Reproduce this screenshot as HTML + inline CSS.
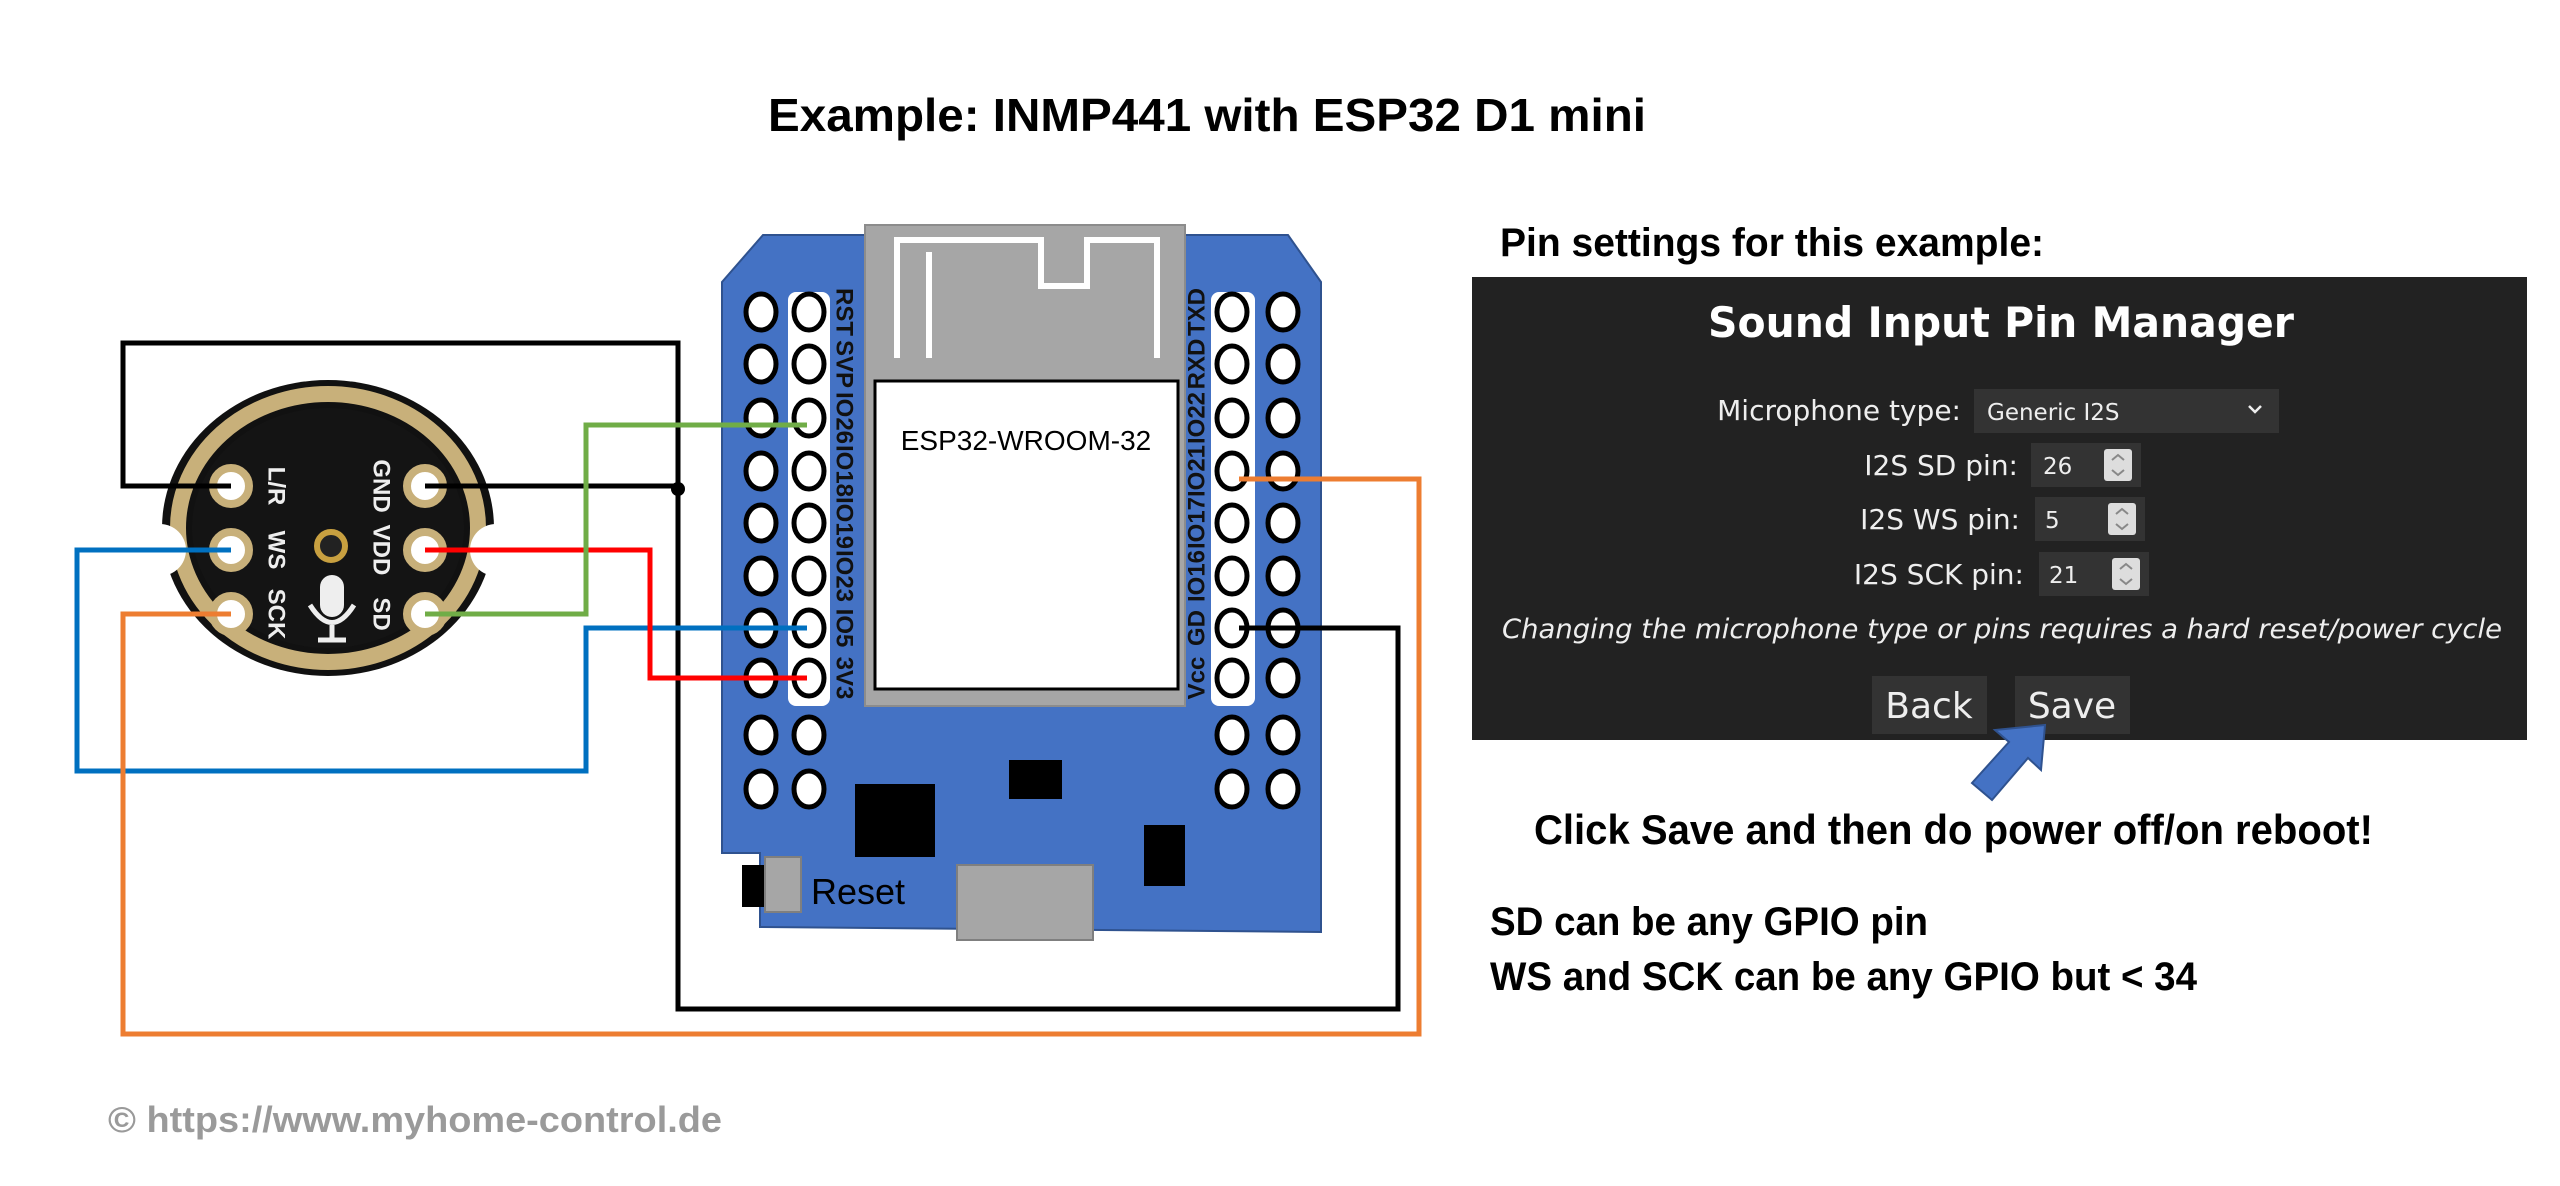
<!DOCTYPE html>
<html><head><meta charset="utf-8"><style>
html,body{margin:0;padding:0;background:#fff;}
svg{display:block;}
</style></head><body>
<svg width="2560" height="1186" viewBox="0 0 2560 1186" xmlns="http://www.w3.org/2000/svg">
<rect width="2560" height="1186" fill="#fff"/>
<text x="768" y="131" font-family="Liberation Sans, sans-serif" font-weight="bold" font-size="46" textLength="878" lengthAdjust="spacingAndGlyphs" fill="#000">Example: INMP441 with ESP32 D1 mini</text>

<!-- ESP board -->
<polygon points="722,282 763,235 1288,235 1321,282 1321,932 760,927 760,853 722,853" fill="#4472c4" stroke="#2f528f" stroke-width="2"/>
<rect x="865" y="225" width="320" height="481" fill="#a6a6a6" stroke="#8c8c8c" stroke-width="2"/>
<path d="M897 358 V240 H1041 V286 H1087 V240 H1157 V358 M929 358 V252" fill="none" stroke="#fff" stroke-width="6"/>
<rect x="875" y="381" width="303" height="308" fill="#fff" stroke="#000" stroke-width="3"/>
<text x="1026" y="450" text-anchor="middle" font-family="Liberation Sans, sans-serif" font-size="28" fill="#000">ESP32-WROOM-32</text>
<rect x="788" y="292" width="42" height="414" rx="8" fill="#fff"/>
<rect x="1211" y="292" width="44" height="414" rx="8" fill="#fff"/>
<g fill="#fff" stroke="#000" stroke-width="5">
<ellipse cx="761" cy="312" rx="15" ry="18"/><ellipse cx="809" cy="312" rx="15" ry="18"/><ellipse cx="1232" cy="312" rx="15" ry="18"/><ellipse cx="1283" cy="312" rx="15" ry="18"/>
<ellipse cx="761" cy="364" rx="15" ry="18"/><ellipse cx="809" cy="364" rx="15" ry="18"/><ellipse cx="1232" cy="364" rx="15" ry="18"/><ellipse cx="1283" cy="364" rx="15" ry="18"/>
<ellipse cx="761" cy="418" rx="15" ry="18"/><ellipse cx="809" cy="418" rx="15" ry="18"/><ellipse cx="1232" cy="418" rx="15" ry="18"/><ellipse cx="1283" cy="418" rx="15" ry="18"/>
<ellipse cx="761" cy="471" rx="15" ry="18"/><ellipse cx="809" cy="471" rx="15" ry="18"/><ellipse cx="1232" cy="471" rx="15" ry="18"/><ellipse cx="1283" cy="471" rx="15" ry="18"/>
<ellipse cx="761" cy="523" rx="15" ry="18"/><ellipse cx="809" cy="523" rx="15" ry="18"/><ellipse cx="1232" cy="523" rx="15" ry="18"/><ellipse cx="1283" cy="523" rx="15" ry="18"/>
<ellipse cx="761" cy="576" rx="15" ry="18"/><ellipse cx="809" cy="576" rx="15" ry="18"/><ellipse cx="1232" cy="576" rx="15" ry="18"/><ellipse cx="1283" cy="576" rx="15" ry="18"/>
<ellipse cx="761" cy="628" rx="15" ry="18"/><ellipse cx="809" cy="628" rx="15" ry="18"/><ellipse cx="1232" cy="628" rx="15" ry="18"/><ellipse cx="1283" cy="628" rx="15" ry="18"/>
<ellipse cx="761" cy="678" rx="15" ry="18"/><ellipse cx="809" cy="678" rx="15" ry="18"/><ellipse cx="1232" cy="678" rx="15" ry="18"/><ellipse cx="1283" cy="678" rx="15" ry="18"/>
<ellipse cx="761" cy="735" rx="15" ry="18"/><ellipse cx="809" cy="735" rx="15" ry="18"/><ellipse cx="1232" cy="735" rx="15" ry="18"/><ellipse cx="1283" cy="735" rx="15" ry="18"/>
<ellipse cx="761" cy="789" rx="15" ry="18"/><ellipse cx="809" cy="789" rx="15" ry="18"/><ellipse cx="1232" cy="789" rx="15" ry="18"/><ellipse cx="1283" cy="789" rx="15" ry="18"/>
</g>
<g font-family="Liberation Sans, sans-serif" font-weight="bold" font-size="24" fill="#111" text-anchor="middle">
<text transform="translate(845,312) rotate(90)" dy="0.35em">RST</text>
<text transform="translate(845,364) rotate(90)" dy="0.35em">SVP</text>
<text transform="translate(845,418) rotate(90)" dy="0.35em">IO26</text>
<text transform="translate(845,471) rotate(90)" dy="0.35em">IO18</text>
<text transform="translate(845,523) rotate(90)" dy="0.35em">IO19</text>
<text transform="translate(845,576) rotate(90)" dy="0.35em">IO23</text>
<text transform="translate(845,628) rotate(90)" dy="0.35em">IO5</text>
<text transform="translate(845,678) rotate(90)" dy="0.35em">3V3</text>
<text transform="translate(1196,312) rotate(-90)" dy="0.35em">TXD</text>
<text transform="translate(1196,364) rotate(-90)" dy="0.35em">RXD</text>
<text transform="translate(1196,418) rotate(-90)" dy="0.35em">IO22</text>
<text transform="translate(1196,471) rotate(-90)" dy="0.35em">IO21</text>
<text transform="translate(1196,523) rotate(-90)" dy="0.35em">IO17</text>
<text transform="translate(1196,576) rotate(-90)" dy="0.35em">IO16</text>
<text transform="translate(1196,628) rotate(-90)" dy="0.35em">GD</text>
<text transform="translate(1196,678) rotate(-90)" dy="0.35em">Vcc</text>
</g>
<rect x="855" y="784" width="80" height="73" fill="#000"/>
<rect x="1009" y="760" width="53" height="39" fill="#000"/>
<rect x="1144" y="825" width="41" height="61" fill="#000"/>
<rect x="957" y="865" width="136" height="75" fill="#a6a6a6" stroke="#7f7f7f" stroke-width="2"/>
<rect x="742" y="865" width="23" height="42" fill="#000"/>
<rect x="765" y="857" width="36" height="55" fill="#a6a6a6" stroke="#7f7f7f" stroke-width="2"/>
<text x="811" y="904" font-family="Liberation Sans, sans-serif" font-size="36" fill="#000">Reset</text>

<!-- Microphone -->
<ellipse cx="328" cy="528" rx="166" ry="148" fill="#111"/>
<ellipse cx="328" cy="528" rx="150" ry="134" fill="none" stroke="#c8b07a" stroke-width="16"/>
<ellipse cx="328" cy="528" rx="136" ry="120" fill="#141414"/>
<circle cx="160" cy="550" r="26" fill="#fff"/>
<circle cx="496" cy="550" r="26" fill="#fff"/>
<g fill="#fff" stroke="#c8b07a" stroke-width="8">
<circle cx="231" cy="486" r="18"/><circle cx="231" cy="550" r="18"/><circle cx="231" cy="614" r="18"/>
<circle cx="425" cy="486" r="18"/><circle cx="425" cy="550" r="18"/><circle cx="425" cy="614" r="18"/>
</g>
<circle cx="331" cy="546" r="14" fill="#222" stroke="#c8a040" stroke-width="6"/>
<rect x="320" y="575" width="24" height="42" rx="12" fill="#eee"/>
<path d="M310 605 Q332 640 354 605 M332 625 V640 M318 640 H346" fill="none" stroke="#eee" stroke-width="5"/>
<g font-family="Liberation Sans, sans-serif" font-weight="bold" font-size="24" fill="#eee" text-anchor="middle">
<text transform="translate(277,486) rotate(90)" dy="0.35em">L/R</text>
<text transform="translate(277,550) rotate(90)" dy="0.35em">WS</text>
<text transform="translate(277,614) rotate(90)" dy="0.35em">SCK</text>
<text transform="translate(382,486) rotate(90)" dy="0.35em">GND</text>
<text transform="translate(382,550) rotate(90)" dy="0.35em">VDD</text>
<text transform="translate(382,614) rotate(90)" dy="0.35em">SD</text>
</g>

<!-- Wires -->
<g fill="none" stroke-width="5" stroke-linejoin="miter">
<polyline points="231,486 123,486 123,343 678,343 678,1009 1398,1009 1398,628 1239,628" stroke="#000"/>
<polyline points="425,486 678,486" stroke="#000"/>
<polyline points="231,550 77,550 77,771 586,771 586,628 807,628" stroke="#0070c0"/>
<polyline points="425,550 650,550 650,678 807,678" stroke="#ff0000"/>
<polyline points="425,614 586,614 586,425 807,425" stroke="#70ad47"/>
<polyline points="231,614 123,614 123,1034 1419,1034 1419,479 1239,479" stroke="#ed7d31"/>
</g>
<circle cx="678" cy="489" r="7" fill="#000"/>

<!-- Right panel -->
<text x="1500" y="256" font-family="Liberation Sans, sans-serif" font-weight="bold" font-size="40" textLength="544" lengthAdjust="spacingAndGlyphs" fill="#000">Pin settings for this example:</text>
<rect x="1472" y="277" width="1055" height="463" fill="#222"/>
<text x="2001" y="337" text-anchor="middle" font-family="DejaVu Sans, sans-serif" font-weight="bold" font-size="42" textLength="586" lengthAdjust="spacingAndGlyphs" fill="#fff">Sound Input Pin Manager</text>
<g font-family="DejaVu Sans, sans-serif" font-size="28" fill="#eee" text-anchor="end">
<text x="1961" y="420">Microphone type:</text>
<text x="2018" y="475">I2S SD pin:</text>
<text x="2020" y="529">I2S WS pin:</text>
<text x="2024" y="584">I2S SCK pin:</text>
</g>
<rect x="1974" y="389" width="305" height="44" fill="#333"/>
<text x="1987" y="420" font-family="DejaVu Sans, sans-serif" font-size="23" fill="#eee">Generic I2S</text>
<path d="M2249 406 l6 6 l6 -6" fill="none" stroke="#eee" stroke-width="2.5"/>
<rect x="2031" y="443" width="110" height="44" fill="#333"/>
<rect x="2035" y="497" width="110" height="44" fill="#333"/>
<rect x="2039" y="552" width="110" height="44" fill="#333"/>
<g font-family="DejaVu Sans, sans-serif" font-size="23" fill="#eee">
<text x="2043" y="474">26</text><text x="2045" y="528">5</text><text x="2049" y="583">21</text>
</g>
<g fill="#ddd"><rect x="2104" y="449" width="28" height="32" rx="3"/><rect x="2108" y="503" width="28" height="32" rx="3"/><rect x="2112" y="558" width="28" height="32" rx="3"/></g>
<g fill="none" stroke="#888" stroke-width="2">
<path d="M2112 460 l6 -5 l6 5 M2112 470 l6 5 l6 -5"/><path d="M2116 514 l6 -5 l6 5 M2116 524 l6 5 l6 -5"/><path d="M2120 569 l6 -5 l6 5 M2120 579 l6 5 l6 -5"/>
</g>
<text x="1502" y="638" font-family="DejaVu Sans, sans-serif" font-style="italic" font-size="27" textLength="1000" lengthAdjust="spacingAndGlyphs" fill="#eee">Changing the microphone type or pins requires a hard reset/power cycle</text>
<rect x="1872" y="676" width="115" height="58" fill="#333"/>
<rect x="2015" y="676" width="115" height="58" fill="#333"/>
<g font-family="DejaVu Sans, sans-serif" font-size="36" fill="#eee" text-anchor="middle">
<text x="1929" y="718">Back</text><text x="2072" y="718">Save</text>
</g>
<polygon points="2045,725 2041,770 2028,758 1992,800 1972,783 2009,742 1995,730" fill="#4472c4" stroke="#2f528f" stroke-width="2"/>
<text x="1534" y="844" font-family="Liberation Sans, sans-serif" font-weight="bold" font-size="42" textLength="839" lengthAdjust="spacingAndGlyphs" fill="#000">Click Save and then do power off/on reboot!</text>
<text x="1490" y="935" font-family="Liberation Sans, sans-serif" font-weight="bold" font-size="40" textLength="438" lengthAdjust="spacingAndGlyphs" fill="#000">SD can be any GPIO pin</text>
<text x="1490" y="990" font-family="Liberation Sans, sans-serif" font-weight="bold" font-size="40" textLength="707" lengthAdjust="spacingAndGlyphs" fill="#000">WS and SCK can be any GPIO but &lt; 34</text>
<text x="108" y="1132" font-family="Liberation Sans, sans-serif" font-weight="bold" font-size="36" textLength="614" lengthAdjust="spacingAndGlyphs" fill="#9a9a9a">© https://www.myhome-control.de</text>
</svg>
</body></html>
